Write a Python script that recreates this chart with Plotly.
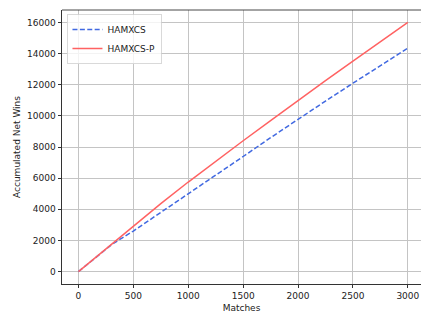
import plotly.graph_objects as go

matches = [0, 100, 200, 300, 400, 500, 750, 1000, 1250, 1500, 1750, 2000, 2250, 2500, 2750, 3000]
hamxcs = [0, 590, 1170, 1720, 2170, 2600, 3800, 4980, 6190, 7390, 8600, 9800, 10950, 12100, 13230, 14350]
hamxcs_p = [0, 580, 1170, 1760, 2350, 2940, 4360, 5750, 7090, 8400, 9700, 11000, 12260, 13520, 14760, 16000]

x_ticks = [0, 500, 1000, 1500, 2000, 2500, 3000]
y_ticks = [0, 2000, 4000, 6000, 8000, 10000, 12000, 14000, 16000]

fig = go.Figure()
fig.add_trace(go.Scatter(x=matches, y=hamxcs, mode="lines", name="HAMXCS",
                         line=dict(color="#4169e1", width=1.5, dash="5px,2.4px")))
fig.add_trace(go.Scatter(x=matches, y=hamxcs_p, mode="lines", name="HAMXCS-P",
                         line=dict(color="#ff6262", width=1.5)))

axis_common = dict(
    showgrid=True, gridcolor="#c4c4c4", gridwidth=0.8, automargin=False,
    zeroline=False, showline=True, linecolor="#333333", linewidth=0.9,
    ticks="outside", ticklen=3.5, tickwidth=0.8, tickcolor="#333333",
    tickfont=dict(family="DejaVu Sans", size=9, color="#222222"),
)

fig.update_layout(
    width=421, height=318,
    margin=dict(l=62, r=0, t=10, b=34),
    paper_bgcolor="white", plot_bgcolor="white",
    font=dict(family="DejaVu Sans", size=9, color="#222222"),
    xaxis=dict(range=[-150, 3120], tickvals=x_ticks, ticktext=[str(v) for v in x_ticks],
               title=dict(text="Matches", standoff=4, font=dict(size=9)),
               **axis_common),
    yaxis=dict(range=[-800, 16800], tickvals=y_ticks, ticktext=[str(v) for v in y_ticks],
               title=dict(text="Accumulated Net Wins", standoff=4, font=dict(size=9)),
               **axis_common),
    legend=dict(x=0.013, y=0.985, xanchor="left", yanchor="top",
                bgcolor="rgba(255,255,255,0.8)", bordercolor="#d0d0d0", borderwidth=0.8,
                font=dict(size=9), itemwidth=30, tracegroupgap=0),
    showlegend=True,
)
fig.add_shape(type="line", xref="paper", yref="paper", x0=0, x1=1, y0=1, y1=1,
              line=dict(color="#333333", width=0.9))

fig.write_html("out.html", config={"displayModeBar": False},
               post_script="document.body.style.margin='0px';")
